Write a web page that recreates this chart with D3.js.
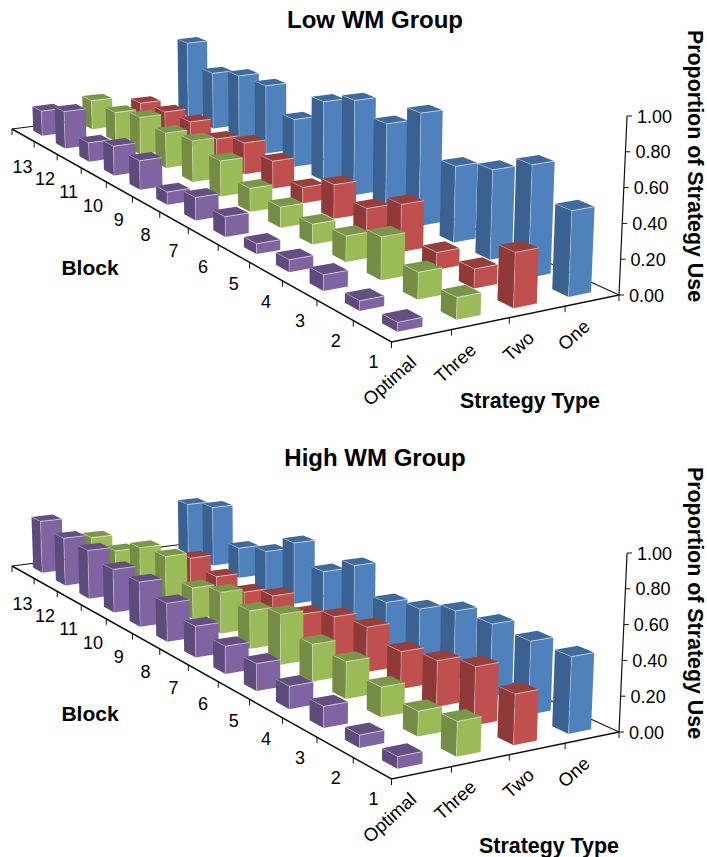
<!DOCTYPE html>
<html>
<head>
<meta charset="utf-8">
<script src="https://cdn.jsdelivr.net/npm/d3@7"></script>
<style>
  html, body { margin: 0; padding: 0; background: #fff; }
  text { font-family: "Liberation Sans", Arial, sans-serif; fill: #000; }
</style>
</head>
<body>
<div id="chart"></div>
<script>
// two 3D bar charts of strategy use per block, low and high working memory
const strategies = ["Optimal", "Three", "Two", "One"]
const blocks = [1, 2, 3, 4, 5, 6, 7, 8, 9, 10, 11, 12, 13]
const valueTicks = [0, 0.2, 0.4, 0.6, 0.8, 1]

const lowOptimal = [.05, .055, .09, .07, .06, .12, .14, .08, .185, .19, .125, .25, .17]
const lowThree = [.12, .15, .245, .15, .12, .125, .145, .225, .265, .23, .25, .20, .20]
const lowTwo = [.305, .11, .10, .28, .16, .21, .10, .175, .205, .145, .175, .16, .14]
const lowOne = [.48, .645, .525, .455, .69, .54, .605, .515, .315, .46, .45, .39, .53]

const highOptimal = [.065, .07, .12, .13, .16, .165, .19, .24, .285, .28, .32, .32, .355]
const highThree = [.19, .14, .17, .215, .22, .305, .235, .26, .20, .32, .295, .19, .20]
const highTwo = [.28, .33, .265, .22, .27, .24, .165, .19, .125, .14, .18, .05, .05]
const highOne = [.43, .42, .425, .41, .33, .28, .425, .30, .405, .265, .205, .41, .355]

const colors = {
	Optimal: {front: "#8064a2", side: "#5f4a7c", top: "#644e82"},
	Three: {front: "#9bbb59", side: "#748c43", top: "#7a9648"},
	Two: {front: "#c0504d", side: "#8f3a38", top: "#963f3c"},
	One: {front: "#4f81bd", side: "#3a618f", top: "#3f6a9c"}
}

const width = 707, height = 857

// floor corners in the picture, everything else goes through these
const corner = {
	front: [391.5, 342],
	right: [619, 295],
	back: [204, 104.5],
	left: [12, 129]
}

// projective map of the unit floor (u along strategy, w along block)
const den = (corner.right[0] - corner.back[0]) * (corner.left[1] - corner.back[1])
	- (corner.left[0] - corner.back[0]) * (corner.right[1] - corner.back[1])
const sx = corner.front[0] - corner.right[0] + corner.back[0] - corner.left[0]
const sy = corner.front[1] - corner.right[1] + corner.back[1] - corner.left[1]
const g = (sx * (corner.left[1] - corner.back[1]) - (corner.left[0] - corner.back[0]) * sy) / den
const h = ((corner.right[0] - corner.back[0]) * sy - sx * (corner.right[1] - corner.back[1])) / den

const z = d3.scaleLinear().domain([0, 1]).range([0, 179 * (1 + g)])

function project(u, w, v) {
	const d = 1 + g * u + h * w
	const x = (corner.front[0] + (corner.right[0] * (1 + g) - corner.front[0]) * u
		+ (corner.left[0] * (1 + h) - corner.front[0]) * w) / d
	const y = (corner.front[1] + (corner.right[1] * (1 + g) - corner.front[1]) * u
		+ (corner.left[1] * (1 + h) - corner.front[1]) * w) / d
	const rise = z(v) / d
	// verticals lean away from a far vanishing point below the chart
	return [x + rise * (x - 286) / 7400, y - rise]
}

const uScale = d3.scaleBand().domain(strategies).range([0, 1]).paddingInner(0.58).paddingOuter(0.29)
const wScale = d3.scaleBand().domain(blocks).range([0, 1]).paddingInner(0.6).paddingOuter(0.3)

const poly = d3.line()

const svg = d3.select("#chart")
	.append("svg")
		.attr("width", width)
		.attr("height", height)
		.style("display", "block")

function drawChart(title, offset, series, titleY, typeX, typeY, blockY) {
	const chart = svg.append("g").attr("transform", `translate(0, ${offset})`)

	// back edges of the floor first, the bars cover them
	chart.append("path")
		.attr("d", poly([project(0, 1, 0), project(1, 1, 0), project(1, 0, 0)]))
		.attr("fill", "none")
		.attr("stroke", "#111")
		.attr("stroke-width", 1.1)

	const rows = []
	blocks.slice().reverse().forEach(function(b) {
		strategies.slice().reverse().forEach(function(s) {
			rows.push({block: b, strategy: s, value: series[s][blocks.indexOf(b)]})
		})
	})

	const bar = chart.selectAll("g.bar")
		.data(rows)
		.join("g")
			.attr("class", "bar")

	function face(d, pts) {
		const u0 = uScale(d.strategy), u1 = u0 + uScale.bandwidth()
		const w0 = wScale(d.block), w1 = w0 + wScale.bandwidth()
		const us = [u0, u1], ws = [w0, w1]
		return poly(pts.map(p => project(us[p[0]], ws[p[1]], p[2] ? d.value : 0)))
	}

	bar.append("path")
		.attr("d", d => face(d, [[0, 0, 0], [0, 1, 0], [0, 1, 1], [0, 0, 1]]) + "Z")
		.attr("fill", d => colors[d.strategy].side)
	bar.append("path")
		.attr("d", d => face(d, [[0, 0, 0], [1, 0, 0], [1, 0, 1], [0, 0, 1]]) + "Z")
		.attr("fill", d => colors[d.strategy].front)
	bar.append("path")
		.attr("d", d => face(d, [[0, 0, 1], [1, 0, 1], [1, 1, 1], [0, 1, 1]]) + "Z")
		.attr("fill", d => colors[d.strategy].top)

	// thin light edge along the near corner and the top
	bar.append("path")
		.attr("d", d => face(d, [[0, 1, 1], [0, 0, 1], [1, 0, 1], [0, 0, 1], [0, 0, 0]]))
		.attr("fill", "none")
		.attr("stroke", "#fff")
		.attr("stroke-opacity", 0.45)
		.attr("stroke-width", 0.7)

	// front axes
	chart.append("path")
		.attr("d", poly([project(0, 1, 0), project(0, 0, 0), project(1, 0, 0)]))
		.attr("fill", "none")
		.attr("stroke", "#111")
		.attr("stroke-width", 1.5)

	// block ticks, one at the start of each block and one closing the axis
	const blockStep = wScale.step()
	const blockTicks = d3.range(blocks.length + 1).map(i => i * blockStep)
	chart.selectAll("line.btick")
		.data(blockTicks)
		.join("line")
			.attr("class", "btick")
			.attr("x1", d => project(0, d, 0)[0])
			.attr("y1", d => project(0, d, 0)[1])
			.attr("x2", d => project(0, d, 0)[0])
			.attr("y2", d => project(0, d, 0)[1] + 6)
			.attr("stroke", "#111")
			.attr("stroke-width", 1)

	chart.selectAll("text.blabel")
		.data(blocks)
		.join("text")
			.attr("class", "blabel")
			.attr("x", (d, i) => project(0, i * blockStep, 0)[0] - 18 + 7 * i * blockStep)
			.attr("y", (d, i) => project(0, i * blockStep, 0)[1] + 26 + 6 * i * blockStep)
			.attr("text-anchor", "middle")
			.attr("font-size", 18)
			.text(d => d)

	// strategy ticks and slanted labels
	const strategyStep = uScale.step()
	const strategyTicks = d3.range(strategies.length + 1).map(i => i * strategyStep)
	chart.selectAll("line.stick")
		.data(strategyTicks)
		.join("line")
			.attr("class", "stick")
			.attr("x1", d => project(d, 0, 0)[0])
			.attr("y1", d => project(d, 0, 0)[1])
			.attr("x2", d => project(d, 0, 0)[0])
			.attr("y2", d => project(d, 0, 0)[1] + 6)
			.attr("stroke", "#111")
			.attr("stroke-width", 1)

	chart.selectAll("text.slabel")
		.data(strategies)
		.join("text")
			.attr("class", "slabel")
			.attr("transform", function(d, i) {
				const p = project(i * strategyStep, 0, 0)
				return `translate(${p[0] + 26}, ${p[1] + 22}) rotate(-42)`
			})
			.attr("text-anchor", "end")
			.attr("font-size", 18.5)
			.text(d => d)

	// value axis stands on the right corner
	chart.append("path")
		.attr("d", poly([project(1, 0, 0), project(1, 0, 1)]))
		.attr("fill", "none")
		.attr("stroke", "#111")
		.attr("stroke-width", 1.2)

	const valueTick = chart.selectAll("g.vtick")
		.data(valueTicks)
		.join("g")
			.attr("class", "vtick")
			.attr("transform", d => `translate(${project(1, 0, d)})`)
	valueTick.append("line")
		.attr("x2", 5)
		.attr("stroke", "#111")
		.attr("stroke-width", 1)
	valueTick.append("text")
		.attr("x", 10)
		.attr("y", 6.5)
		.attr("font-size", 18)
		.text(d => d3.format(".2f")(d))

	// titles
	chart.append("text")
		.attr("x", 375)
		.attr("y", titleY)
		.attr("text-anchor", "middle")
		.attr("font-size", 24)
		.attr("font-weight", "bold")
		.text(title)
	chart.append("text")
		.attr("x", 90)
		.attr("y", blockY)
		.attr("text-anchor", "middle")
		.attr("font-size", 21)
		.attr("font-weight", "bold")
		.text("Block")
	chart.append("text")
		.attr("x", typeX)
		.attr("y", typeY)
		.attr("text-anchor", "middle")
		.attr("font-size", 21.4)
		.attr("font-weight", "bold")
		.text("Strategy Type")
	chart.append("text")
		.attr("transform", "translate(687.5, 166) rotate(90)")
		.attr("text-anchor", "middle")
		.attr("font-size", 21.4)
		.attr("font-weight", "bold")
		.text("Proportion of Strategy Use")
}

drawChart("Low WM Group", 0,
	{Optimal: lowOptimal, Three: lowThree, Two: lowTwo, One: lowOne},
	28, 530, 408, 275)
drawChart("High WM Group", 437,
	{Optimal: highOptimal, Three: highThree, Two: highTwo, One: highOne},
	29, 549, 416, 284)
</script>
</body>
</html>
